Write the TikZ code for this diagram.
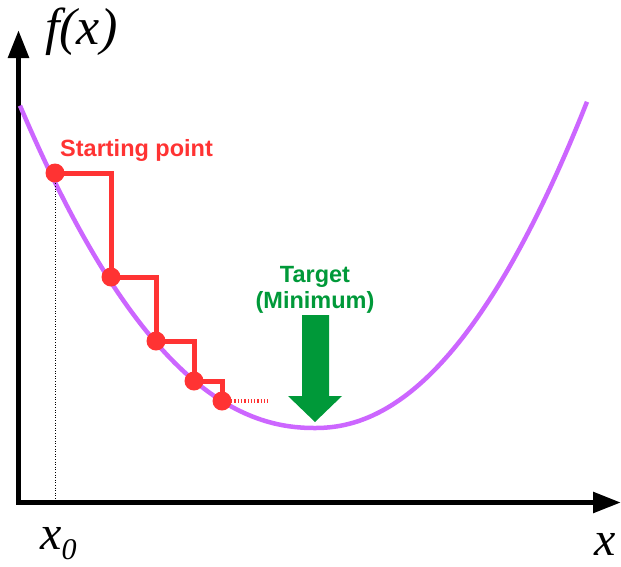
\documentclass[tikz,border=0pt]{standalone}
\usepackage{fontspec}
\setmainfont{Liberation Serif}
\setsansfont{Liberation Sans}
\usetikzlibrary{arrows.meta}
\definecolor{curvepurple}{RGB}{204,102,255}
\definecolor{stepred}{RGB}{255,51,51}
\definecolor{targetgreen}{RGB}{0,153,57}
\tikzset{
  axisline/.style={line width=5.5pt, {Triangle[length=28pt,width=20pt]}-{Triangle[length=28pt,width=20pt]}},
  curveline/.style={curvepurple, line width=4.5pt},
  stepline/.style={stepred, line width=5pt},
  dotmark/.style={circle, fill=stepred, inner sep=0pt, minimum size=19pt},
  redlabel/.style={stepred, font=\sffamily\bfseries\fontsize{23.5}{27}\selectfont, inner sep=0pt},
  greenlabel/.style={targetgreen, font=\sffamily\bfseries\fontsize{23.5}{27}\selectfont, inner sep=0pt},
  mathlabel/.style={font=\itshape\fontsize{48}{52}\selectfont, inner sep=0pt},
}
\begin{document}
\begin{tikzpicture}[x=1pt,y=-1pt]
\useasboundingbox (0,0) rectangle (621,566);
% axes
\coordinate (ytip) at (18.5,30);
\coordinate (origin) at (18.5,502.5);
\coordinate (xtip) at (621,502.5);
\draw[axisline] (ytip) -- (origin) -- (xtip);
% curve
\draw[curveline]
  plot[domain=20:314.5, samples=90] (\x, {428 - 31.5*pow((315-\x)/100,2.15)})
  -- plot[domain=315.5:587, samples=90] (\x, {428 - 39.9*pow((\x-315)/100,2.1)});
% step points
\coordinate (p1) at (55,173);
\coordinate (p2) at (111,277);
\coordinate (p3) at (156,341);
\coordinate (p4) at (194,381);
\coordinate (p5) at (222,401);
\coordinate (x0foot) at (55,502);
\draw[black, line width=0.6pt, dotted] (p1) -- (x0foot);
\draw[stepline] (p1) -| (p2);
\draw[stepline] (p2) -| (p3);
\draw[stepline] (p3) -| (p4);
\draw[stepline] (p4) -| (p5);
\coordinate (dotend) at (268,401);
\draw[stepred, line width=4pt, dash pattern=on 1.3pt off 2pt] (p5) ++(9,0) -- (dotend);
\node[dotmark] (d1) at (p1) {};
\node[dotmark] (d2) at (p2) {};
\node[dotmark] (d3) at (p3) {};
\node[dotmark] (d4) at (p4) {};
\node[dotmark] (d5) at (p5) {};
% labels
\node[redlabel, anchor=base west] (start) at (60,156) {Starting point};
\node[greenlabel, anchor=base] (target) at (315,282) {Target};
\node[greenlabel, anchor=base] (minimum) at (315,308) {(Minimum)};
% green arrow
\fill[targetgreen] (302,315) -- (329,315) -- (329,396) -- (342,396) -- (315,422) -- (288,396) -- (302,396) -- cycle;
% axis labels
\node[mathlabel, font=\itshape\fontsize{52}{56}\selectfont, anchor=base west] (fx) at (45,44) {f(x)};
\node[mathlabel, anchor=base west] (x0) at (40,549) {x\raisebox{-10pt}{\fontsize{30}{32}\selectfont 0}};
\node[mathlabel, anchor=base west] (xlab) at (594,555) {x};
\end{tikzpicture}
\end{document}
